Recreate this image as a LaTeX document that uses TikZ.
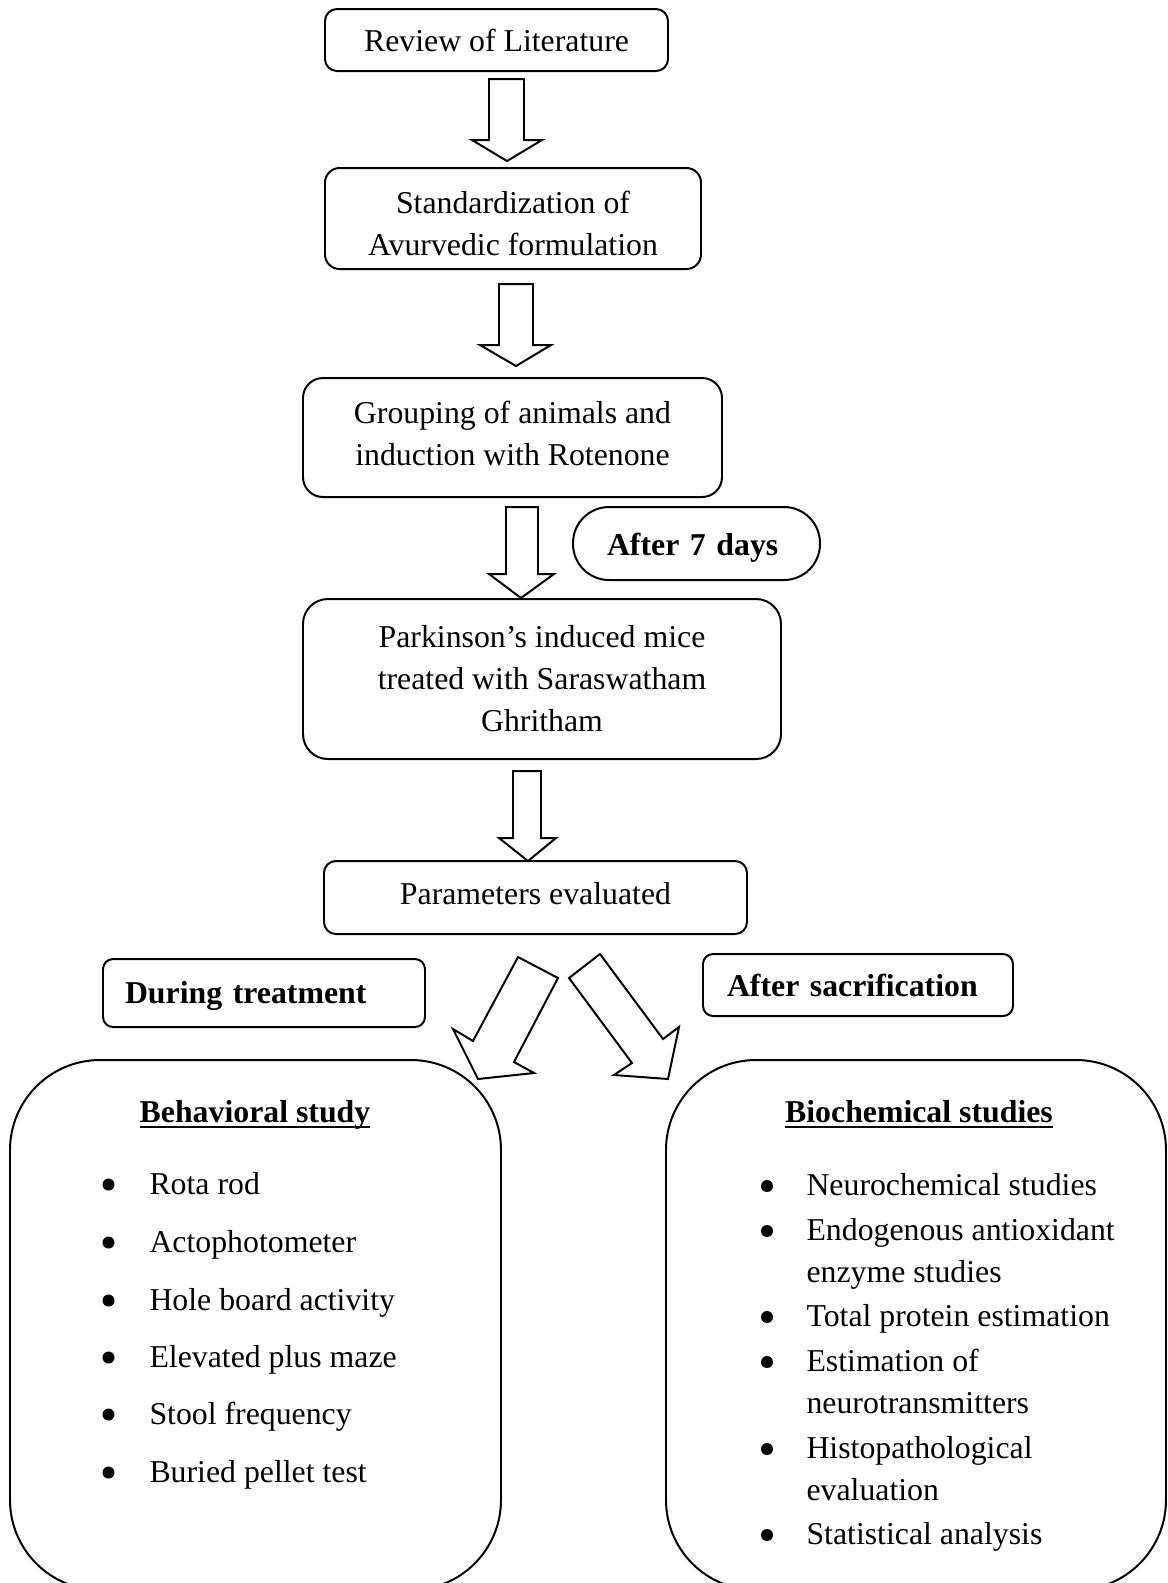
\documentclass[tikz,border=0pt]{standalone}
\usepackage{fontspec}
\setmainfont{Liberation Serif}
\def\pxl{0.3774pt}
\newcommand\myul[1]{\setbox0\hbox{#1}\rlap{\rule[-2.4pt]{\wd0}{1pt}}\box0}
\begin{document}
\begin{tikzpicture}[x=0.3774pt,y=-0.3774pt,
  every node/.style={font=\fontsize{12}{15.85}\selectfont},
  box/.style={draw,line width=0.75pt,rounded corners=#1,inner sep=0pt,align=center},
  box/.default=4.5pt,
  lbox/.style={draw,line width=0.75pt,rounded corners=#1,inner ysep=0pt,align=left},
  blk/.style={draw,line width=0.75pt,fill=white,line join=miter},
  bul/.style={circle,fill=black,inner sep=0pt,minimum size=12*\pxl},
  itm/.style={anchor=base west,inner sep=0pt},
  hd/.style={anchor=base,inner sep=0pt,font=\fontsize{12}{15}\selectfont\bfseries},
]
\clip (0,0) rectangle (1168,1583);
\fill[white] (0,0) rectangle (1168,1583);

% main flow boxes
\node[box=4.5pt, minimum width=343*\pxl, minimum height=62*\pxl] (b1) at (496.5,40) {Review of Literature};
\node[box=5.5pt, minimum width=376*\pxl, minimum height=101*\pxl] (b2) at (513,218.5) {\rule{0pt}{12pt}Standardization of\\Avurvedic formulation};
\node[box=7.5pt, minimum width=419*\pxl, minimum height=119*\pxl] (b3) at (512.5,437.5) {Grouping of animals and\\induction with Rotenone\rule[-3pt]{0pt}{0pt}};
\node[lbox=13.6pt, minimum height=73*\pxl, inner xsep=34*\pxl, text width=179*\pxl, font=\fontsize{12}{15}\selectfont\bfseries] (days) at (696.5,543.5) {\rule{0pt}{11.3pt}After 7 days};
\node[box=9.4pt, minimum width=478*\pxl, minimum height=160*\pxl] (b4) at (542,679) {Parkinson’s induced mice\\treated with Saraswatham\\Ghritham};
\node[box=4.5pt, minimum width=423*\pxl, minimum height=73*\pxl] (b5) at (535.5,897.5) {Parameters evaluated\rule[-3.3pt]{0pt}{0pt}};

% side labels
\node[lbox=3.8pt, minimum height=68*\pxl, inner xsep=22*\pxl, text width=278*\pxl, font=\fontsize{12}{15}\selectfont\bfseries] (dur) at (264,993) {\rule{0pt}{10.5pt}During treatment};
\node[lbox=3.8pt, minimum height=62*\pxl, inner xsep=24*\pxl, text width=262*\pxl, font=\fontsize{12}{15}\selectfont\bfseries] (aft) at (858,985) {After sacrification};

% big boxes
\node[box=34pt, minimum width=491*\pxl, minimum height=530*\pxl] (lb) at (255.5,1325) {};
\node[box=34pt, minimum width=500*\pxl, minimum height=530*\pxl] (rb) at (916,1325) {};

% block arrows
\draw[blk] (489,79) -- (524,79) -- (524,140) -- (542,140) -- (507,161) -- (472,140) -- (489,140) -- cycle;
\draw[blk] (499,284) -- (533,284) -- (533,345) -- (551,345) -- (516,366) -- (480,345) -- (499,345) -- cycle;
\draw[blk] (506,507) -- (538,507) -- (538,574) -- (554,574) -- (521,598) -- (489,574) -- (506,574) -- cycle;
\draw[blk] (513,771) -- (541,771) -- (541,838) -- (556,838) -- (528,861) -- (499,838) -- (513,838) -- cycle;
\draw[blk] (518,957) -- (558,978) -- (514,1062) -- (534,1073) -- (478,1079) -- (453,1029) -- (473,1041) -- cycle;
\draw[blk] (569,978) -- (600,954) -- (663,1039) -- (679,1027) -- (668,1079) -- (614,1075) -- (632,1063) -- cycle;

% left list
\node[hd] (lh) at (255,1122) {\myul{Behavioral study}};
\foreach \yy/\tt [count=\i] in {1194/Rota rod,1252/Actophotometer,1310/Hole board activity,1367/Elevated plus maze,1424/Stool frequency,1482/Buried pellet test}{
  \node[bul] (lbu\i) at (108.5,\yy-9.5) {};
  \node[itm] (lit\i) at (149,\yy) {\tt};
}

% right list
\node[hd] (rh) at (919,1122) {\myul{Biochemical studies}};
\foreach \yy [count=\i] in {1195.5,1240.5,1326.5,1371.5,1458.5,1544.5}{
  \node[bul] (rbu\i) at (767,\yy-9.5) {};
}
\node[itm] (r1) at (806,1195.5) {Neurochemical studies};
\node[itm] (r2) at (806,1240.5) {Endogenous antioxidant};
\node[itm] (r2b) at (806,1282.5) {enzyme studies};
\node[itm] (r3) at (806,1326.5) {Total protein estimation};
\node[itm] (r4) at (806,1371.5) {Estimation of};
\node[itm] (r4b) at (806,1413.5) {neurotransmitters};
\node[itm] (r5) at (806,1458.5) {Histopathological};
\node[itm] (r5b) at (806,1500.5) {evaluation};
\node[itm] (r6) at (806,1544.5) {Statistical analysis};
\end{tikzpicture}
\end{document}
